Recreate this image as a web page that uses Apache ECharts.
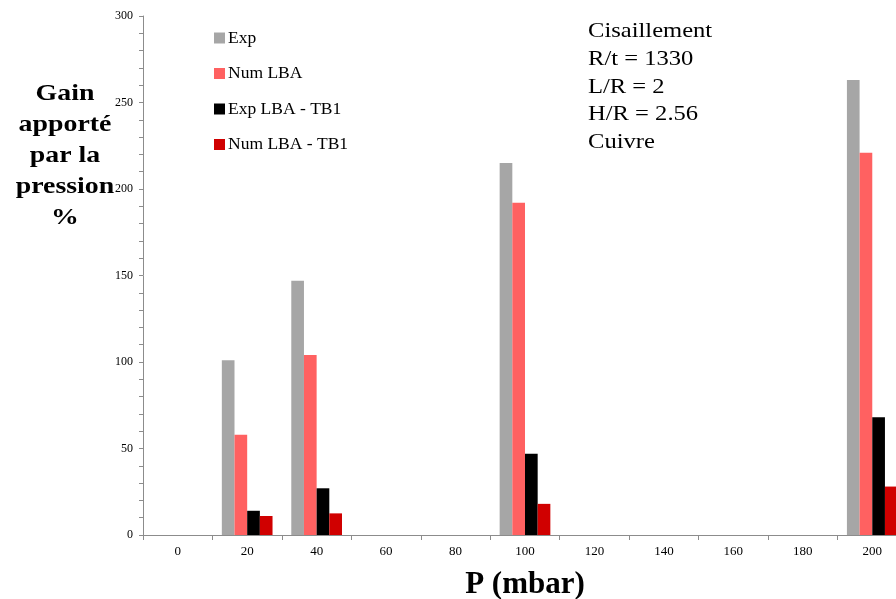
<!DOCTYPE html>
<html>
<head>
<meta charset="utf-8">
<script src="https://cdn.jsdelivr.net/npm/echarts@6/dist/echarts.min.js"></script>
<style>html,body{margin:0;padding:0;background:#fff;overflow:hidden;width:896px;height:599px}#c{width:907px;height:599px}</style>
</head>
<body>
<div id="c"></div>
<script>
const categories = ['0','20','40','60','80','100','120','140','160','180','200'];
const seriesNames = ['Exp','Num LBA','Exp LBA - TB1','Num LBA - TB1'];
const expValues      = [null, 101, 147, null, null, 215, null, null, null, null, 263];
const numLBAValues   = [null, 58, 104, null, null, 192, null, null, null, null, 221];
const expTB1Values   = [null, 14, 27, null, null, 47, null, null, null, null, 68];
const numTB1Values   = [null, 11, 12.5, null, null, 18, null, null, null, null, 28];
const colors = ['#a6a6a6','#ff6161','#000000','#d00000'];
const yAxisTitle = ['Gain','apporté','par la','pression','%'];
const xAxisTitle = 'P (mbar)';
const annotation = ['Cisaillement','R/t = 1330','L/R = 2','H/R = 2.56','Cuivre'];

const serif = "'Liberation Serif','Times New Roman',serif";
const chart = echarts.init(document.getElementById('c'), null, {renderer:'canvas'});
const allData = [expValues, numLBAValues, expTB1Values, numTB1Values];
chart.setOption({
  animation: false,
  color: colors,
  grid: {left: 143, top: 16, right: 0, bottom: 64, containLabel: false},
  legend: {
    orient: 'vertical', left: 214, top: 29, padding: 0,
    itemWidth: 11, itemHeight: 11, itemGap: 17.5,
    icon: 'rect',
    textStyle: {fontFamily: serif, fontSize: 17.5, color: '#000', padding: [0,0,0,-2]},
    data: seriesNames
  },
  xAxis: {
    type: 'category', data: categories,
    axisLine: {lineStyle: {color: '#8c8c8c'}},
    axisTick: {show: true, length: 5, lineStyle: {color: '#8c8c8c'}},
    axisLabel: {fontFamily: serif, fontSize: 13, color: '#000', margin: 10},
    splitLine: {show: false}
  },
  yAxis: {
    type: 'value', min: 0, max: 300, interval: 50,
    axisLine: {show: true, lineStyle: {color: '#8c8c8c'}},
    axisTick: {show: true, length: 4, lineStyle: {color: '#8c8c8c'}},
    minorTick: {show: true, splitNumber: 5, length: 4, lineStyle: {color: '#8c8c8c'}},
    axisLabel: {fontFamily: serif, fontSize: 12, color: '#000', margin: 10},
    splitLine: {show: false}
  },
  series: seriesNames.map((n, i) => ({
    name: n, type: 'bar', data: allData[i],
    barGap: '0%', barCategoryGap: '27%',
    itemStyle: {color: colors[i]}
  })),
  graphic: [
    {type: 'text', x: 65, y: 78, scaleX: 1.16, style: {
      text: yAxisTitle.join('\n'), font: "bold 24px 'Liberation Serif','Times New Roman',serif",
      fill: '#000', align: 'center', lineHeight: 31}},
    {type: 'text', x: 525, y: 585, style: {
      text: xAxisTitle, font: "bold 31px 'Liberation Serif','Times New Roman',serif",
      fill: '#000', align: 'center', verticalAlign: 'middle'}},
    {type: 'text', x: 588, y: 18, scaleX: 1.17, style: {
      text: annotation.join('\n'), font: "21px 'Liberation Serif','Times New Roman',serif",
      fill: '#000', lineHeight: 27.6}}
  ]
});
</script>
</body>
</html>
